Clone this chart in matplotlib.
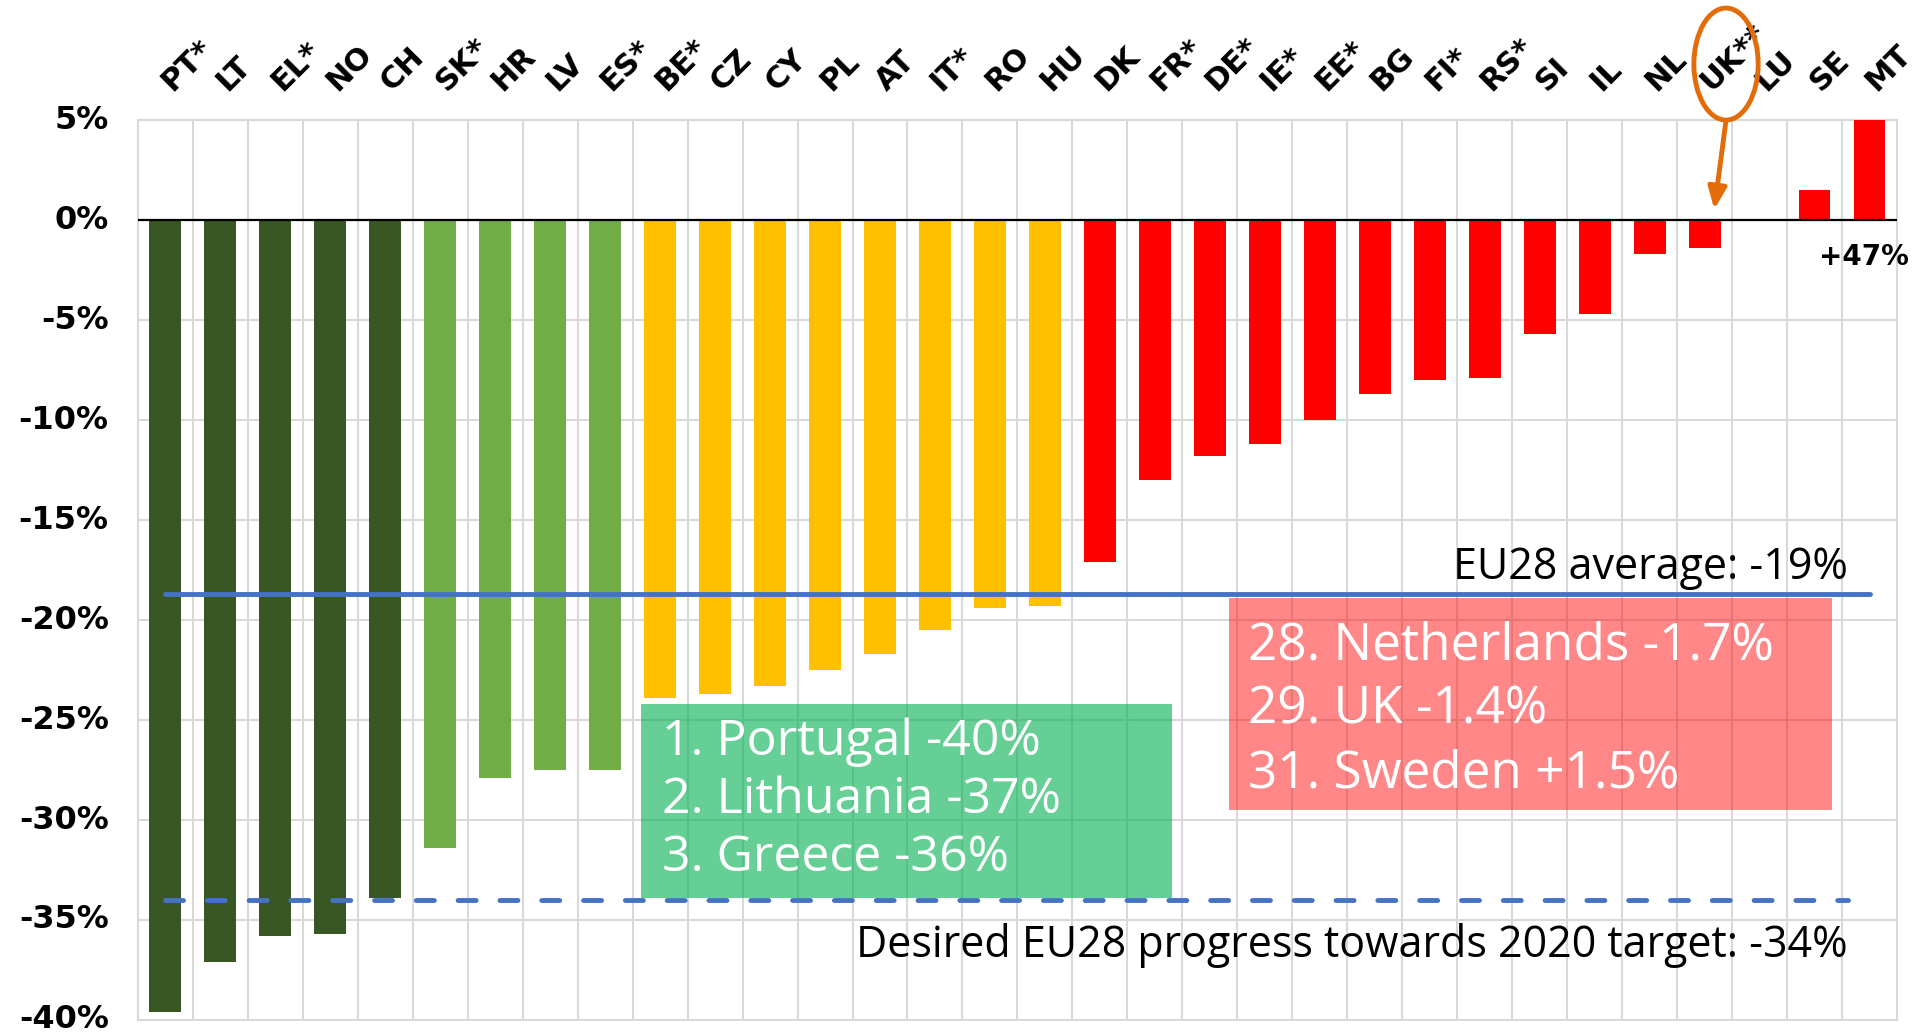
import numpy as np
import matplotlib
matplotlib.use("Agg")
import matplotlib.pyplot as plt
import matplotlib.transforms as mtrans
from matplotlib.patches import Rectangle, Ellipse

# country codes as on the chart
countries = ["PT*", "LT", "EL*", "NO", "CH", "SK*", "HR", "LV", "ES*", "BE*",
             "CZ", "CY", "PL", "AT", "IT*", "RO", "HU", "DK", "FR*", "DE*",
             "IE*", "EE*", "BG", "FI*", "RS*", "SI", "IL", "NL", "UK**", "LU",
             "SE", "MT"]

# change in %
change = [-39.6, -37.1, -35.8, -35.7, -33.9, -31.4, -27.9, -27.5, -27.5, -23.9,
          -23.7, -23.3, -22.5, -21.7, -20.5, -19.4, -19.3, -17.1, -13.0, -11.8,
          -11.2, -10.0, -8.7, -8.0, -7.9, -5.7, -4.7, -1.7, -1.4, 0.0,
          1.5, 47.0]

# colour group of each bar
groups = ["dark"] * 5 + ["light"] * 4 + ["yellow"] * 8 + ["red"] * 15
group_colors = {"dark": "#385723", "light": "#70AD47",
                "yellow": "#FFC000", "red": "#FF0000"}

eu_average = -18.7
eu_target = -34.0
yticks = [5, 0, -5, -10, -15, -20, -25, -30, -35, -40]

best_lines = ["1. Portugal -40%", "2. Lithuania -37%", "3. Greece -36%"]
worst_lines = ["28. Netherlands -1.7%", "29. UK -1.4%", "31. Sweden +1.5%"]

fig = plt.figure(figsize=(19.15, 10.35), dpi=100)
ax = fig.add_axes([0.072, 0.0145, 0.9186, 0.8695])

x = np.arange(len(countries))
colors = [group_colors[g] for g in groups]
ax.bar(x, change, width=0.58, color=colors, zorder=3)

ax.set_xlim(-0.5, len(countries) - 0.5)
ax.set_ylim(-40, 5)

# grid + y labels
ax.set_yticks(yticks)
ax.set_yticklabels([f"{t}%" for t in yticks], fontsize=23, fontweight="bold",
                   family="DejaVu Sans", va="center")
ax.set_xticks(x[:-1] + 0.5, minor=True)
ax.set_xticks([])
ax.tick_params(axis="both", which="both", length=0)
ax.tick_params(axis="y", pad=21)
ax.grid(axis="y", which="major", color="#D9D9D9", lw=1.5, zorder=0)
ax.grid(axis="x", which="minor", color="#D9D9D9", lw=1.5, zorder=0)
for s in ax.spines.values():
    s.set_color("#D9D9D9")
    s.set_linewidth(1.5)

# country labels above the plot
top = mtrans.blended_transform_factory(ax.transData, ax.transAxes)
top = mtrans.offset_copy(top, fig=fig, y=20, units="points")
for i, name in enumerate(countries):
    ax.text(i + 0.12, 1.0, name, transform=top, rotation=45, ha="left",
            va="baseline", rotation_mode="anchor", fontsize=22,
            fontweight="bold", family="DejaVu Sans", clip_on=False)

ax.axhline(0, color="black", lw=1.6, zorder=4)

# average + target lines
ax.plot([0, 31], [eu_average, eu_average], color="#4472C4", lw=3.5,
        solid_capstyle="round", zorder=5)
ax.plot([0, 30.6], [eu_target, eu_target], color="#4472C4", lw=3.5,
        dashes=(3.7, 4.9), dash_capstyle="round", zorder=5)

afont = "Open Sans"
ax.text(30.6, eu_average + 0.75, "EU28 average: -19%", ha="right",
        va="baseline", fontsize=31, family=afont, zorder=6)
ax.text(30.6, -36.3, "Desired EU28 progress towards 2020 target: -34%",
        ha="right", va="center", fontsize=31, family=afont, zorder=6)

# boxes
ax.add_patch(Rectangle((8.66, -33.9), 9.66, 9.7, facecolor="#00B050",
                       alpha=0.6, lw=0, zorder=4))
for i, line in enumerate(best_lines):
    ax.text(9.03, -26.1 - i * 2.9, line, ha="left", va="center",
            fontsize=36, color="white", family=afont, zorder=6)

ax.add_patch(Rectangle((19.34, -29.5), 10.98, 10.6, facecolor="#FF0000",
                       alpha=0.47, lw=0, zorder=4))
for i, line in enumerate(worst_lines):
    ax.text(19.7, -21.3 - i * 3.2, line, ha="left", va="center",
            fontsize=37, color="white", family=afont, zorder=6)

ax.text(30.9, -1.85, "+47%", ha="center", va="center", fontsize=20,
        fontweight="bold", family="DejaVu Sans", clip_on=False, zorder=6)

# UK highlight
ax.add_patch(Ellipse((28.39, 7.8), 1.17, 5.6, fill=False, edgecolor="#E36C09",
                     lw=3.5, clip_on=False, zorder=7))
ax.annotate("", xy=(28.17, 0.4), xytext=(28.39, 5.0),
            arrowprops=dict(arrowstyle="-|>,head_width=0.55,head_length=1.3",
                            color="#E36C09", lw=3.5),
            annotation_clip=False, zorder=7)

fig.savefig("out.png", dpi=100)
